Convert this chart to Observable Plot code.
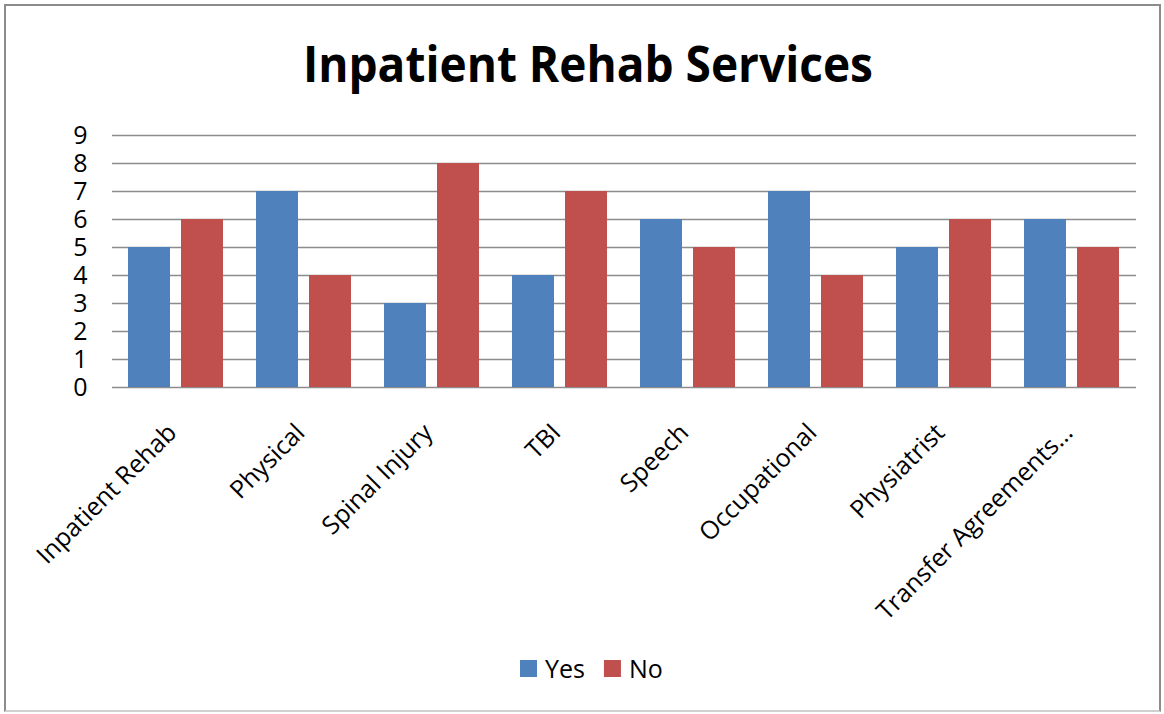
<!DOCTYPE html>
<html>
<head>
<meta charset="utf-8">
<script src="https://cdn.jsdelivr.net/npm/d3@7"></script>
<script src="https://cdn.jsdelivr.net/npm/@observablehq/plot@0.6"></script>
<style>
  html, body { margin: 0; padding: 0; background: #fff; }
  body { width: 1164px; height: 714px; position: relative; overflow: hidden; font-family: "Open Sans", sans-serif; }
  #frame { position: absolute; left: 4px; top: 4px; width: 1153px; height: 704px; border: 2px solid #8c8c8c; border-bottom-color: #d0d0d0; }
  #title { position: absolute; left: 0; top: 0; }
  #chart { position: absolute; left: 0; top: 115px; }
  #legend { position: absolute; left: 0; top: 640px; }
</style>
</head>
<body>
<div id="frame"></div>
<div id="title"></div>
<div id="chart"></div>
<div id="legend"></div>
<script>
const titleText = "Inpatient Rehab Services";
const categories = ["Inpatient Rehab", "Physical", "Spinal Injury", "TBI", "Speech", "Occupational", "Physiatrist", "Transfer Agreements…"];
const series = ["Yes", "No"];
const yesValues = [5, 7, 3, 4, 6, 7, 5, 6];
const noValues = [6, 4, 8, 7, 5, 4, 6, 5];
const colors = ["#4F81BD", "#C0504D"];
const yTicks = [0, 1, 2, 3, 4, 5, 6, 7, 8, 9];

const data = categories.flatMap((c, i) => [
  {category: c, series: "Yes", value: yesValues[i]},
  {category: c, series: "No", value: noValues[i]}
]);

// Title
const tsvg = d3.select("#title").append("svg").attr("width", 1164).attr("height", 110);
tsvg.append("text")
  .attr("x", 588).attr("y", 82)
  .attr("text-anchor", "middle")
  .attr("font-family", "Open Sans")
  .attr("font-weight", "bold")
  .attr("font-size", 50)
  .attr("textLength", 570)
  .attr("lengthAdjust", "spacingAndGlyphs")
  .attr("fill", "#000")
  .text(titleText);

// Chart
const chart = Plot.plot({
  width: 1164,
  height: 502,
  marginLeft: 110,
  marginRight: 27,
  marginTop: 20,
  marginBottom: 230,
  style: {fontFamily: "Open Sans", color: "#000", background: "transparent", overflow: "visible"},
  fx: {domain: categories, padding: 0, label: null},
  x: {domain: series, paddingInner: 0.2, paddingOuter: 0.3, axis: null},
  y: {domain: [0, 9], label: null},
  color: {domain: series, range: colors},
  marks: [
    Plot.gridY(yTicks, {stroke: "#8c8c8c", strokeOpacity: 1, strokeWidth: 1.5}),
    Plot.axisY(yTicks, {tickSize: 0, tickPadding: 25, fontSize: 25, label: null, fill: "#000"}),
    Plot.barY(data, {fx: "category", x: "series", y: "value", fill: "series"}),
    Plot.axisFx({anchor: "bottom", tickRotate: -45, tickSize: 0, tickPadding: 41, dx: -4, fontSize: 25, label: null, fill: "#000"})
  ]
});
document.getElementById("chart").appendChild(chart);

// Legend
const lsvg = d3.select("#legend").append("svg").attr("width", 1164).attr("height", 60);
let lx = 520;
series.forEach((s, i) => {
  lsvg.append("rect").attr("x", lx).attr("y", 20).attr("width", 17).attr("height", 17).attr("fill", colors[i]);
  const t = lsvg.append("text").attr("x", lx + 25).attr("y", 38)
    .attr("font-family", "Open Sans").attr("font-size", 25).attr("fill", "#000").text(s);
  lx = lx + 25 + t.node().getComputedTextLength() + 19;
});
</script>
</body>
</html>
